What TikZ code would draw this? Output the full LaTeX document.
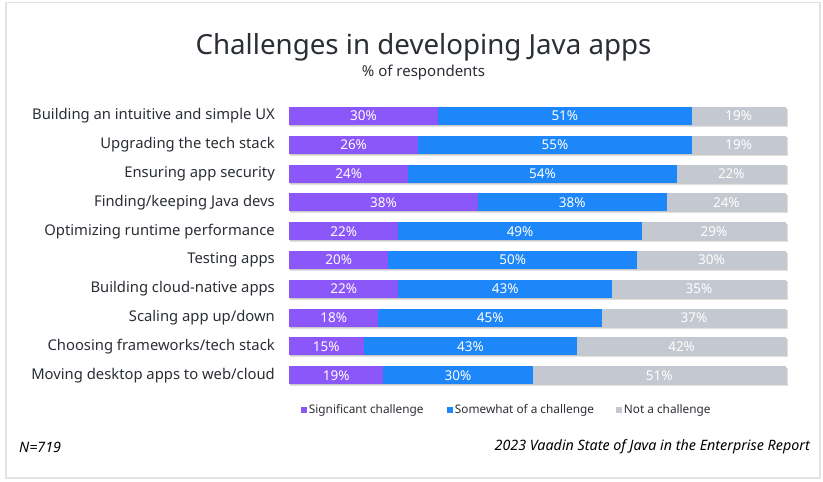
\documentclass[tikz,border=0pt]{standalone}
\usepackage{fontspec}
\setmainfont{Noto Sans}
\definecolor{sigc}{HTML}{8B57F9}
\definecolor{somc}{HTML}{1D86F9}
\definecolor{notc}{HTML}{C3C8D1}
\definecolor{txtc}{HTML}{2A2E35}
\definecolor{framec}{HTML}{E2E2E2}
\begin{document}
\begin{tikzpicture}[x=1pt,y=-1pt,
  seg/.style={anchor=west, minimum height=18pt, inner sep=0pt, outer sep=0pt,
    text=white, font=\fontsize{13.5}{15}\selectfont},
  rowlab/.style={anchor=east, inner sep=0pt, text=txtc, font=\fontsize{14.8}{17}\selectfont},
  legsq/.style={minimum size=6.5pt, inner sep=0pt, outer sep=0pt},
  legtxt/.style={anchor=west, inner sep=1.5pt, text=txtc, font=\fontsize{11.8}{14}\selectfont},
  foot/.style={inner sep=0pt, text=black, font=\fontsize{14.3}{16}\selectfont\itshape}]
\useasboundingbox (0,0) rectangle (823,482);
% card outline
\draw[framec, line width=1.2pt] (6,2.5) rectangle (820,478);
% heading
\node[text=txtc, font=\fontsize{27.7}{30}\selectfont] (title) at (423.5,47) {Challenges in developing Java apps};
\node[text=txtc, font=\fontsize{15}{17}\selectfont] (sub) at (423.5,73) {\% of respondents};
% stacked bars, 100% = 497pt
\foreach \lab/\a/\b/\c [count=\i] in {
  {Building an intuitive and simple UX}/30/51/19,
  {Upgrading the tech stack}/26/55/19,
  {Ensuring app security}/24/54/22,
  {Finding/keeping Java devs}/38/38/24,
  {Optimizing runtime performance}/22/49/29,
  {Testing apps}/20/50/30,
  {Building cloud-native apps}/22/43/35,
  {Scaling app up/down}/18/45/37,
  {Choosing frameworks/tech stack}/15/43/42,
  {Moving desktop apps to web/cloud}/19/30/51} {
  \pgfmathsetmacro\yy{116+(\i-1)*28.8}
  \pgfmathsetmacro\wa{4.97*\a}
  \pgfmathsetmacro\wb{4.97*\b}
  \pgfmathsetmacro\wc{4.97*\c}
  \fill[black, opacity=0.12] (290,\yy-7.5) rectangle (787.5,\yy+11);
  \fill[black, opacity=0.10] (289.5,\yy-8) rectangle (786.5,\yy+10);
  \node[seg, fill=sigc, minimum width=\wa pt] (s\i) at (289,\yy) {\a\%};
  \node[seg, fill=somc, minimum width=\wb pt] (m\i) at (s\i.east) {\b\%};
  \node[seg, fill=notc, minimum width=\wc pt] (n\i) at (m\i.east) {\c\%};
  \node[rowlab] (l\i) at (275,\yy) {\lab};
}
% legend
\node[legsq, fill=sigc] (q1) at (304,410) {};
\node[legtxt] (t1) at (q1.east) {Significant challenge};
\node[legsq, fill=somc] (q2) at (450,410) {};
\node[legtxt] (t2) at (q2.east) {Somewhat of a challenge};
\node[legsq, fill=notc] (q3) at (619,410) {};
\node[legtxt] (t3) at (q3.east) {Not a challenge};
% footer
\node[foot, anchor=west] (n) at (19,447) {N=719};
\node[foot, anchor=east] (src) at (810,447) {2023 Vaadin State of Java in the Enterprise Report};
\end{tikzpicture}
\end{document}
